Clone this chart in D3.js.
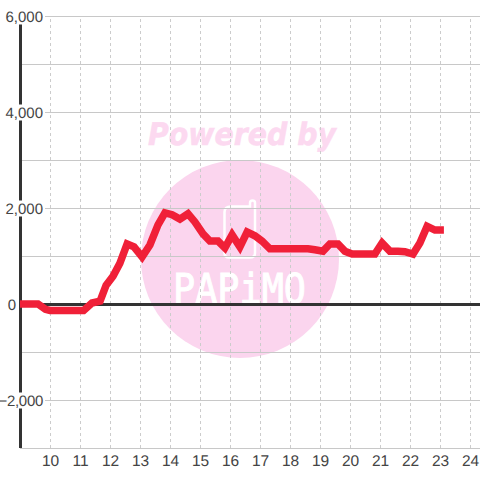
<!DOCTYPE html>
<html><head><meta charset="utf-8">
<script src="https://cdnjs.cloudflare.com/ajax/libs/d3/7.8.5/d3.min.js"></script>
<style>html,body{margin:0;padding:0;background:#fff}svg{display:block}text{text-rendering:geometricPrecision}</style>
</head><body><svg id="c" width="480" height="480"></svg>
<script>
const hours=[9,9.25,9.5,9.6,9.85,10,10.25,10.5,10.75,11,11.12,11.4,11.67,11.87,12.1,12.33,12.57,12.8,13.07,13.33,13.6,13.83,14.07,14.33,14.6,14.83,15.1,15.33,15.6,15.83,16.07,16.33,16.57,16.83,17.07,17.33,17.6,17.83,18.07,18.33,18.6,18.83,19.1,19.33,19.6,19.83,20.07,20.33,20.6,20.83,21.07,21.33,21.6,21.83,22.1,22.33,22.57,22.83,23.13];
const values=[0,0,0,0,-110,-135,-135,-135,-135,-135,-135,20,60,390,580,850,1250,1190,980,1230,1650,1900,1860,1770,1880,1710,1460,1310,1310,1170,1440,1190,1500,1420,1310,1150,1150,1150,1150,1150,1150,1130,1100,1250,1250,1100,1040,1040,1040,1040,1270,1100,1100,1090,1040,1270,1620,1540,1540];
const xTicks=d3.range(10,25);
const yGrid=d3.range(-3000,7000,1000);
const yLabels=[-2000,0,2000,4000,6000];
const watermarkTop="Powered by";
const watermarkLogo="PAPiMO";

const svg=d3.select("#c");
const x=d3.scaleLinear().domain([9,24.3333]).range([20,480]);
const y=d3.scaleLinear().domain([-3000,6000]).range([448,16]);
const font="'Liberation Sans',Arial,sans-serif";
const ink="#444";

// watermark
const wm=svg.append("g");
wm.append("circle").attr("cx",240).attr("cy",259).attr("r",99).attr("fill","#fbd5ee");
wm.append("text").text(watermarkTop).attr("x",148).attr("y",145)
  .attr("textLength",188).attr("lengthAdjust","spacingAndGlyphs")
  .attr("font-family","'DejaVu Sans'").attr("font-weight","bold").attr("font-style","italic")
  .attr("font-size",31).attr("fill","#fcd9f0").attr("stroke","#fcd9f0").attr("stroke-width",0.6);
wm.append("path").attr("fill","none").attr("stroke","#fff").attr("stroke-width",2.5)
  .attr("d","M231 206.5H250V203Q250 200.5 252.5 200.5Q255 200.5 255 203V253Q255 257.5 250 257.5H229Q224.5 257.5 224.5 253V212Q224.5 206.5 231 206.5Z");
wm.append("text").text(watermarkLogo).attr("x",173).attr("y",303)
  .attr("textLength",133).attr("lengthAdjust","spacingAndGlyphs")
  .attr("font-family","'DejaVu Sans Mono'").attr("font-size",41).attr("fill","#fff").attr("stroke","#fff").attr("stroke-width",1);

// grid
const gy=svg.append("g").attr("transform","translate(20,0)")
  .call(d3.axisRight(y).tickValues(yGrid).tickSize(460).tickFormat(""));
gy.select(".domain").remove();
gy.selectAll("line").attr("stroke","#c8c8c8").attr("stroke-width",1);
const gx=svg.append("g").attr("transform","translate(0,448)")
  .call(d3.axisTop(x).tickValues(xTicks).tickSize(432).tickFormat(""));
gx.select(".domain").remove();
gx.selectAll("line").attr("stroke","#cccccc").attr("stroke-dasharray","3,3").attr("stroke-width",1);

// axis lines
svg.append("line").attr("x1",x(9)+0.5).attr("x2",x(9)+0.5).attr("y1",y(-3000)).attr("y2",y(6000))
  .attr("stroke","#333").attr("stroke-width",3);
svg.append("line").attr("x1",x(9)).attr("x2",480).attr("y1",y(0)+0.5).attr("y2",y(0)+0.5)
  .attr("stroke","#333").attr("stroke-width",3);

// y labels with white backing
const yl=svg.append("g").attr("transform","translate(44,0)")
  .call(d3.axisLeft(y).tickValues(yLabels).tickSize(0).tickPadding(1).tickFormat(d3.format(",")));
yl.select(".domain").remove();
yl.selectAll("text").attr("font-family",font).attr("font-size",15).attr("fill",ink).attr("dy","0.34em")
  .attr("x",d=>d===0?-28:-1).attr("letter-spacing",d=>d<0?-0.3:0);
yl.selectAll(".tick").filter(d=>d!==0).insert("rect","text")
  .attr("x",-44).attr("y",-8).attr("width",45).attr("height",16).attr("fill","#fff");

// x labels
const xl=svg.append("g").attr("transform","translate(0,448)")
  .call(d3.axisBottom(x).tickValues(xTicks).tickSize(0).tickPadding(0));
xl.select(".domain").remove();
xl.selectAll("text").attr("font-family",font).attr("font-size",15.5).attr("fill",ink).attr("y",7).attr("dy","0.71em");

// series
svg.append("path").datum(d3.zip(hours,values))
  .attr("fill","none").attr("stroke","#f02038").attr("stroke-width",7.5).attr("stroke-linejoin","miter")
  .attr("d",d3.line().x(d=>x(d[0])).y(d=>y(d[1])));
</script></body></html>
